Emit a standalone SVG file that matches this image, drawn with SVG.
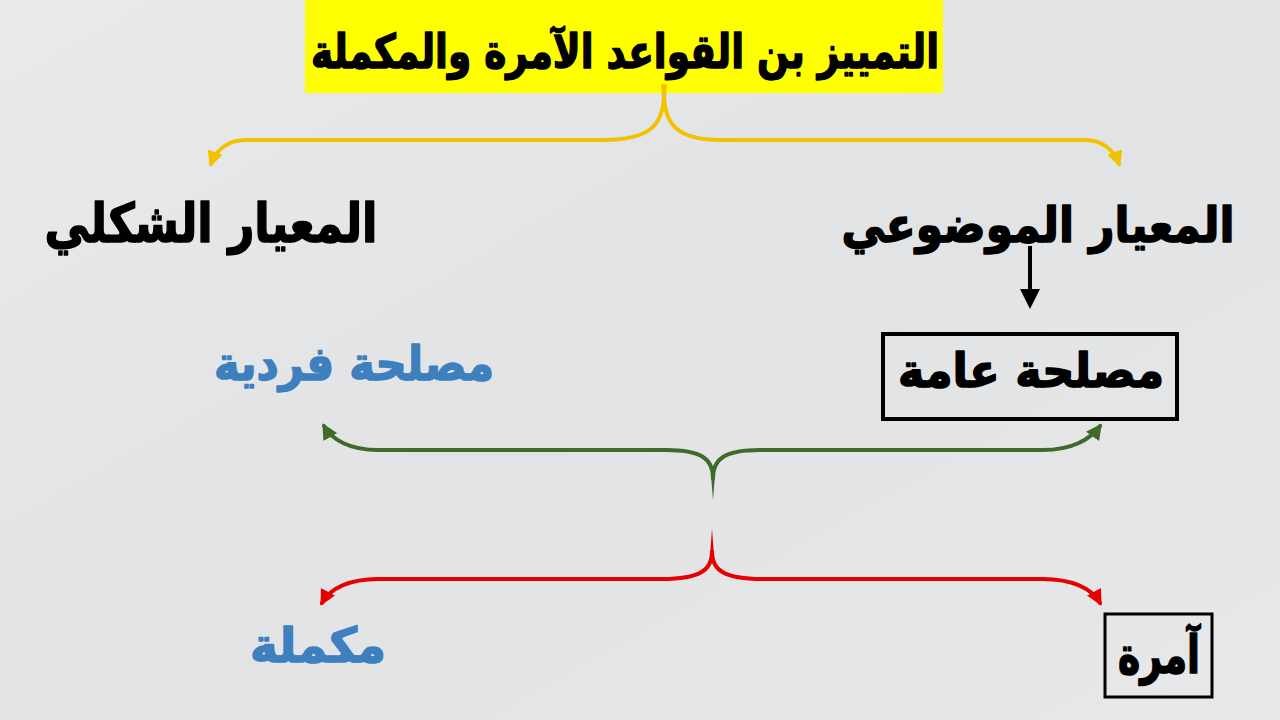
<svg xmlns="http://www.w3.org/2000/svg" width="1280" height="720" viewBox="0 0 1280 720">
<defs>
<linearGradient id="bg" x1="0" y1="0" x2="1" y2="1">
<stop offset="0" stop-color="#e9eaec"/>
<stop offset="0.5" stop-color="#e2e3e5"/>
<stop offset="1" stop-color="#e7e8ea"/>
</linearGradient>
<marker id="ay" viewBox="0 0 10 10" refX="8" refY="5" markerWidth="4" markerHeight="4" orient="auto" markerUnits="strokeWidth"><path d="M0,0 L10,5 L0,10 z" fill="#f2c200"/></marker>
<marker id="ag" viewBox="0 0 10 10" refX="8" refY="5" markerWidth="4" markerHeight="4" orient="auto" markerUnits="strokeWidth"><path d="M0,0 L10,5 L0,10 z" fill="#3f6a2a"/></marker>
<marker id="ar" viewBox="0 0 10 10" refX="8" refY="5" markerWidth="4" markerHeight="4" orient="auto" markerUnits="strokeWidth"><path d="M0,0 L10,5 L0,10 z" fill="#e60000"/></marker>
<marker id="ak" viewBox="0 0 10 10" refX="8" refY="5" markerWidth="5" markerHeight="5" orient="auto" markerUnits="strokeWidth"><path d="M0,0 L10,5 L0,10 z" fill="#000"/></marker>
</defs>
<style>
.t{font-family:"DejaVu Sans","Noto Sans",sans-serif;font-weight:bold;text-anchor:middle}
.blk{fill:#000;stroke:#000;stroke-width:1.6;stroke-linejoin:round}
.blu{fill:#3d7fbf;stroke:#3d7fbf;stroke-width:1.6;stroke-linejoin:round}
.y{fill:none;stroke:#f2c200;stroke-width:4;stroke-linecap:round}
.g{fill:none;stroke:#3f6a2a;stroke-width:4;stroke-linecap:round}
.r{fill:none;stroke:#e60000;stroke-width:4;stroke-linecap:round}
.box{fill:none;stroke:#000}
</style>
<rect width="1280" height="720" fill="url(#bg)"/>

<g id="title">
<rect x="305" y="0" width="638" height="93" fill="#ffff00"/>
<text class="t blk" x="625" y="68" font-size="47" textLength="628" lengthAdjust="spacingAndGlyphs">التمييز بن القواعد الآمرة والمكملة</text>
</g>

<g id="node-objective">
<text class="t blk" x="1038" y="242" font-size="49" textLength="393" lengthAdjust="spacingAndGlyphs">المعيار الموضوعي</text>
</g>
<g id="node-formal">
<text class="t blk" x="211" y="242" font-size="54" textLength="333" lengthAdjust="spacingAndGlyphs">المعيار الشكلي</text>
</g>
<g id="node-public">
<rect class="box" x="883" y="334" width="294" height="85" stroke-width="4"/>
<text class="t blk" x="1031" y="387" font-size="47" textLength="266" lengthAdjust="spacingAndGlyphs">مصلحة عامة</text>
</g>
<g id="node-individual">
<text class="t blu" x="354" y="380" font-size="47" textLength="280" lengthAdjust="spacingAndGlyphs">مصلحة فردية</text>
</g>
<g id="node-mandatory">
<rect class="box" x="1105" y="614" width="107" height="83" stroke-width="3"/>
<text class="t blk" x="1159" y="673" font-size="52" textLength="82" lengthAdjust="spacingAndGlyphs">آمرة</text>
</g>
<g id="node-complementary">
<text class="t blu" x="318" y="662" font-size="48" textLength="136" lengthAdjust="spacingAndGlyphs">مكملة</text>
</g>

<g id="connectors">
<!-- yellow brace -->
<path class="y" d="M664,93 C664,125 650,140 603,140 L245,140 C228,140 216,150 211,164" marker-end="url(#ay)"/>
<path class="y" d="M664,93 C664,125 678,140 721,140 L1085,140 C1102,140 1114,150 1119,164" marker-end="url(#ay)"/>
<path d="M661,84 L667,84 L665,110 L663,110 z" fill="#f2c200"/>
<!-- black arrow -->
<path d="M1030,246 L1030,305" stroke="#000" stroke-width="4" fill="none" marker-end="url(#ak)"/>
<!-- green brace -->
<path class="g" d="M713,478 C713,458 700,450 666,450 L378,450 C350,450 332,440 324,426" marker-end="url(#ag)"/>
<path class="g" d="M713,478 C713,458 726,450 760,450 L1043,450 C1071,450 1090,440 1100,426" marker-end="url(#ag)"/>
<path d="M711,475 L715,475 L713,500 z" fill="#3f6a2a"/>
<!-- red brace -->
<path class="r" d="M712,552 C712,570 700,579 662,579 L378,579 C350,579 330,588 322,603" marker-end="url(#ar)"/>
<path class="r" d="M712,552 C712,570 724,579 762,579 L1043,579 C1071,579 1092,588 1100,603" marker-end="url(#ar)"/>
<path d="M710,556 L714,556 L712,528 z" fill="#e60000"/>
</g>
</svg>
